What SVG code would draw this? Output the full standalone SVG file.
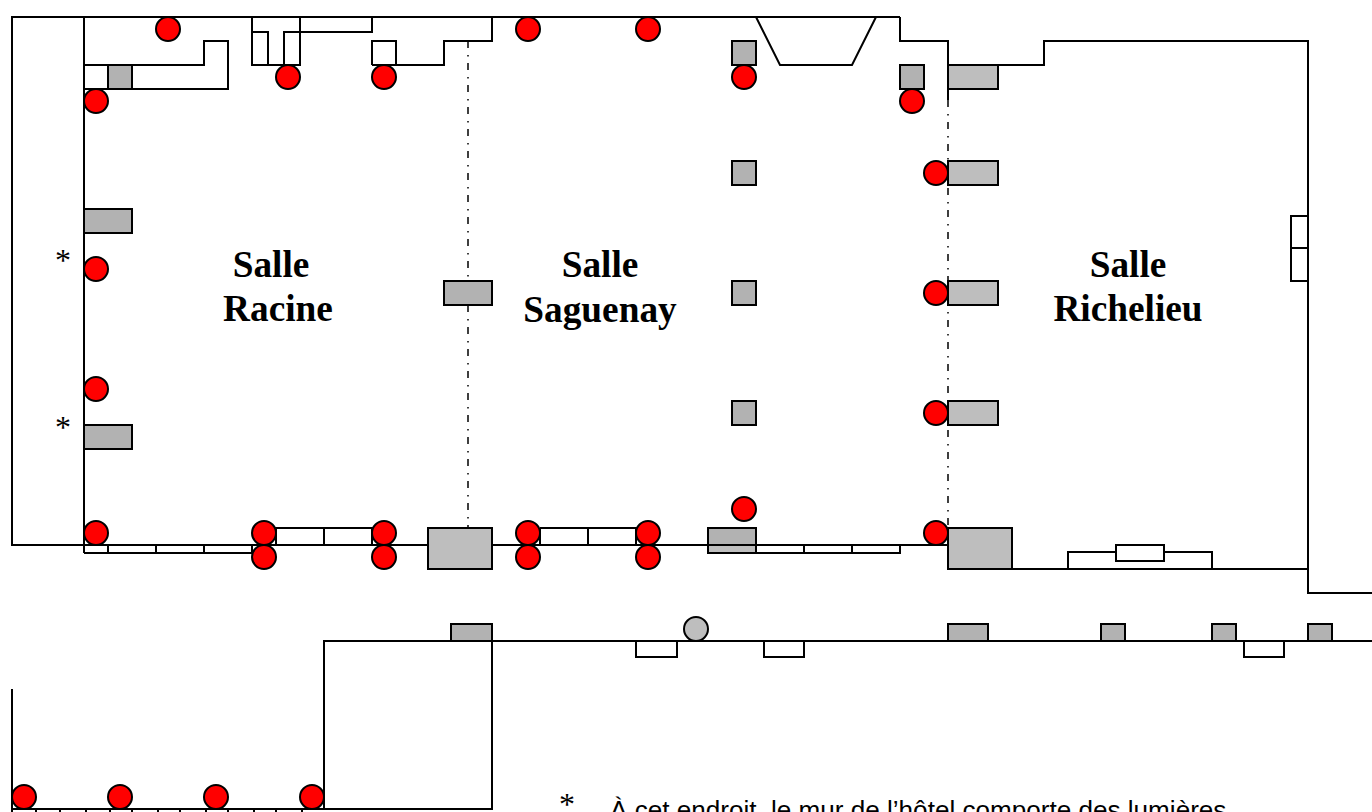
<svg xmlns="http://www.w3.org/2000/svg" width="1372" height="812" viewBox="0 0 1372 812">
<style>
.w{fill:none;stroke:#000;stroke-width:2}
.o{fill:#fff;stroke:#000;stroke-width:2}
.g{fill:#b2b2b2;stroke:#000;stroke-width:2}
.l{fill:#bebebe;stroke:#000;stroke-width:2}
.r{fill:#f00;stroke:#000;stroke-width:2}
.d{fill:none;stroke:#000;stroke-width:1.5;stroke-dasharray:7 7 1.5 6.5}
.t{font-family:"Liberation Serif","Times New Roman",serif;font-weight:bold;font-size:37.3px;text-anchor:middle}
.a{font-family:"Liberation Serif","Times New Roman",serif;font-size:32px}
.n{font-family:"Liberation Sans",Arial,sans-serif;font-size:26.1px}
</style>
<rect width="1372" height="812" fill="#fff"/>
<g id="walls">
<path class="w" d="M900 17H12V545H948M84 17V553M900 17V41H948V89M998 65H1044V41H1308V593H1372M948 569H1308"/>
<path class="w" d="M84 65H204V41H228V89H84M252 17V65H300V17M252 32H268V65M284 65V32H300M300 32H372V17M372 65V41H396V65M372 65H444V41H492V17"/>
<path class="w" d="M756 17L780 65H852L876 17M948 89V100"/>
<path class="w" d="M84 553H252M108 545V553M156 545V553M204 545V553M252 545V553"/>
<path class="w" d="M264 528H372V545M276 528V545M324 528V545M540 528H636V545M540 528V545M588 528V545M636 528V545"/>
<path class="w" d="M756 553H900V545M804 545V553M852 545V553"/>
<path class="w" d="M1068 569V552H1212V569"/>
<path class="w" d="M324 809V641H1372M12 689V809H492V641"/>
<path class="w" d="M12 809V812M36 809V812M60 809V812M86 809V812M110 809V812M132 809V812M158 809V812M180 809V812M206 809V812M228 809V812M254 809V812M276 809V812M302 809V812"/>
<rect class="o" x="1116" y="545" width="48" height="16"/>
<rect class="o" x="1291" y="216" width="17" height="32"/>
<rect class="o" x="1291" y="248" width="17" height="33"/>
<rect class="o" x="636" y="641" width="41" height="16"/>
<rect class="o" x="764" y="641" width="40" height="16"/>
<rect class="o" x="1244" y="641" width="40" height="16"/>
</g>
<g id="partitions">
<path class="d" d="M468 41V528M948 100V528"/>
</g>
<g id="columns">
<rect class="g" x="108" y="65" width="24" height="24"/>
<rect class="g" x="732" y="41" width="24" height="24"/>
<rect class="g" x="900" y="65" width="24" height="24"/>
<rect class="g" x="732" y="161" width="24" height="24"/>
<rect class="g" x="732" y="281" width="24" height="24"/>
<rect class="g" x="732" y="401" width="24" height="24"/>
<rect class="g" x="84" y="209" width="48" height="24"/>
<rect class="g" x="84" y="425" width="48" height="24"/>
<rect class="g" x="444" y="281" width="48" height="24"/>
<rect class="l" x="948" y="65" width="50" height="24"/>
<rect class="l" x="948" y="161" width="50" height="24"/>
<rect class="l" x="948" y="281" width="50" height="24"/>
<rect class="l" x="948" y="401" width="50" height="24"/>
<rect class="l" x="428" y="528" width="64" height="41"/>
<rect class="l" x="948" y="528" width="64" height="41"/>
<rect class="l" x="708" y="528" width="48" height="25"/>
<rect class="g" x="708" y="528" width="48" height="17"/>
<rect class="g" x="451" y="624" width="41" height="17"/>
<rect class="g" x="948" y="624" width="40" height="17"/>
<rect class="g" x="1101" y="624" width="24" height="17"/>
<rect class="g" x="1212" y="624" width="24" height="17"/>
<rect class="g" x="1308" y="624" width="24" height="17"/>
<circle class="l" cx="696" cy="629" r="12"/>
</g>
<g id="lights">
<circle class="r" cx="168" cy="29" r="12"/>
<circle class="r" cx="96" cy="101" r="12"/>
<circle class="r" cx="288" cy="77" r="12"/>
<circle class="r" cx="384" cy="77" r="12"/>
<circle class="r" cx="528" cy="29" r="12"/>
<circle class="r" cx="648" cy="29" r="12"/>
<circle class="r" cx="744" cy="77" r="12"/>
<circle class="r" cx="912" cy="101" r="12"/>
<circle class="r" cx="936" cy="173" r="12"/>
<circle class="r" cx="936" cy="293" r="12"/>
<circle class="r" cx="936" cy="413" r="12"/>
<circle class="r" cx="744" cy="509" r="12"/>
<circle class="r" cx="936" cy="533" r="12"/>
<circle class="r" cx="96" cy="269" r="12"/>
<circle class="r" cx="96" cy="389" r="12"/>
<circle class="r" cx="96" cy="533" r="12"/>
<circle class="r" cx="264" cy="533" r="12"/>
<circle class="r" cx="264" cy="557" r="12"/>
<circle class="r" cx="384" cy="533" r="12"/>
<circle class="r" cx="384" cy="557" r="12"/>
<circle class="r" cx="528" cy="533" r="12"/>
<circle class="r" cx="528" cy="557" r="12"/>
<circle class="r" cx="648" cy="533" r="12"/>
<circle class="r" cx="648" cy="557" r="12"/>
<circle class="r" cx="24" cy="797" r="12"/>
<circle class="r" cx="120" cy="797" r="12"/>
<circle class="r" cx="216" cy="797" r="12"/>
<circle class="r" cx="312" cy="797" r="12"/>
</g>
<g id="labels">
<text class="t" x="271" y="277">Salle</text>
<text class="t" x="278" y="321">Racine</text>
<text class="t" x="600" y="277">Salle</text>
<text class="t" x="600" y="322">Saguenay</text>
<text class="t" x="1128" y="277">Salle</text>
<text class="t" x="1128" y="321">Richelieu</text>
<text class="a" x="55" y="271">*</text>
<text class="a" x="55" y="438">*</text>
<text class="a" x="559" y="815">*</text>
<text class="n" x="610" y="819">À cet endroit, le mur de l’hôtel comporte des lumières</text>
</g>
</svg>
